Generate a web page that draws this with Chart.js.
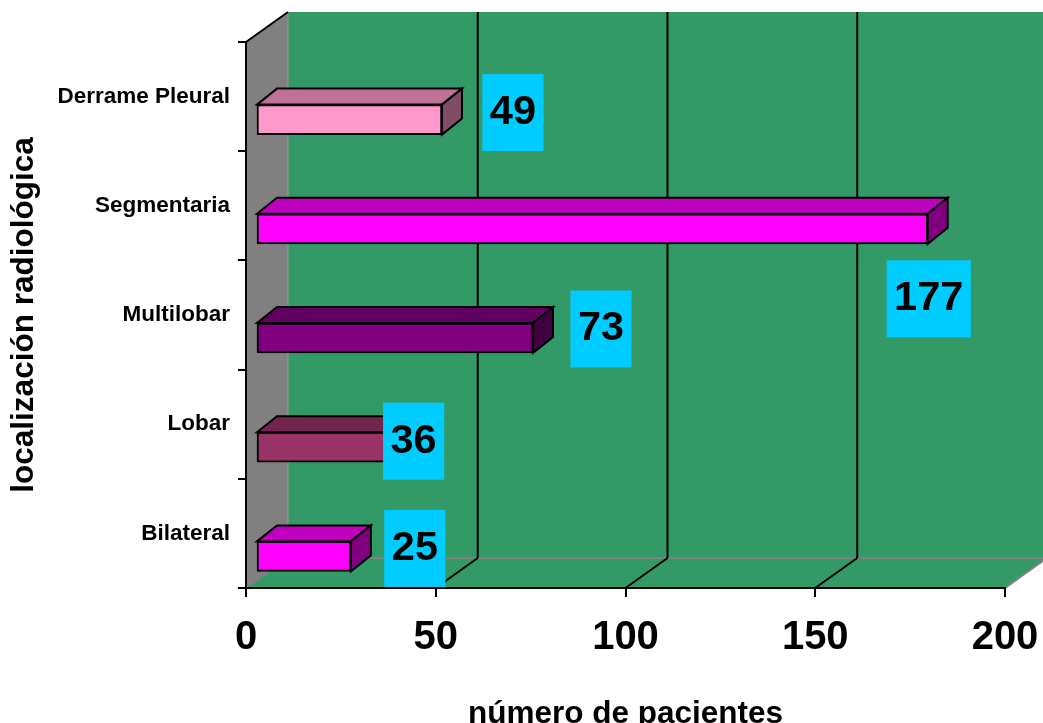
<!DOCTYPE html>
<html>
<head>
<meta charset="utf-8">
<script src="https://cdn.jsdelivr.net/npm/chart.js@4/dist/chart.umd.min.js"></script>
<style>
  html, body { margin: 0; padding: 0; background: #ffffff; overflow: hidden; }
  canvas { display: block; }
</style>
</head>
<body>
<canvas id="chart" width="1043" height="723"></canvas>
<script>
// Patients per radiological location
const categories = ['Derrame Pleural', 'Segmentaria', 'Multilobar', 'Lobar', 'Bilateral'];
const patients = [49, 177, 73, 36, 25];
const xTickValues = [0, 50, 100, 150, 200];
const barColors = ['#FF99CC', '#FF00FF', '#800080', '#993366', '#FF00FF'];

const FONT = '"Liberation Sans", Arial, Helvetica, sans-serif';
const GREEN = '#339966';
const GRAY = '#808080';
const LABEL_BG = '#00CCFF';

// darken a #rrggbb colour by a factor
function shade(hex, f) {
  const n = parseInt(hex.slice(1), 16);
  const r = Math.round(((n >> 16) & 255) * f);
  const g = Math.round(((n >> 8) & 255) * f);
  const b = Math.round((n & 255) * f);
  return `rgb(${r},${g},${b})`;
}

function line(ctx, x1, y1, x2, y2, color, width) {
  ctx.beginPath();
  ctx.moveTo(x1, y1);
  ctx.lineTo(x2, y2);
  ctx.strokeStyle = color;
  ctx.lineWidth = width;
  ctx.stroke();
}

function poly(ctx, pts, fill, stroke) {
  ctx.beginPath();
  ctx.moveTo(pts[0][0], pts[0][1]);
  for (let i = 1; i < pts.length; i++) ctx.lineTo(pts[i][0], pts[i][1]);
  ctx.closePath();
  if (fill) { ctx.fillStyle = fill; ctx.fill(); }
  if (stroke) { ctx.strokeStyle = stroke; ctx.lineWidth = 2; ctx.lineJoin = 'miter'; ctx.stroke(); }
}

// Pseudo-3D scene: side wall, back wall, floor, bar depth faces and value boxes
const scene3d = {
  id: 'scene3d',
  beforeDraw(chart, args, o) {
    const ctx = chart.ctx;
    const xs = chart.scales.x;
    const area = chart.chartArea;
    const L = xs.getPixelForValue(xTickValues[0]);
    const R = xs.getPixelForValue(xTickValues[xTickValues.length - 1]);
    const T = area.top, B = area.bottom;
    const dx = o.wallDepthX, dy = o.wallDepthY;
    ctx.save();
    // back wall
    ctx.fillStyle = GREEN;
    ctx.fillRect(L + dx, T + dy, (R + dx) - (L + dx), B - T);
    // floor
    poly(ctx, [[L, B], [L + dx, B + dy], [R + dx, B + dy], [R, B]], GREEN, null);
    // side wall
    poly(ctx, [[L, T], [L + dx, T + dy], [L + dx, B + dy], [L, B]], GRAY, null);
    line(ctx, L + dx, T + dy, L + dx, B + dy, '#999999', 1);
    // floor edges
    line(ctx, L + dx, B + dy, R + dx, B + dy, GRAY, 2);
    line(ctx, L, B, L + dx, B + dy, GRAY, 2);
    line(ctx, R, B, R + dx, B + dy, GRAY, 2);
    line(ctx, L, T, L + dx, T + dy, '#000000', 2);
    // gridlines on the back wall and across the floor
    xTickValues.slice(1).forEach(v => {
      const p = xs.getPixelForValue(v);
      line(ctx, p + dx, T + dy, p + dx, B + dy, '#000000', 2);
      if (v !== xTickValues[xTickValues.length - 1]) line(ctx, p, B, p + dx, B + dy, '#000000', 2);
    });
    ctx.restore();
  },
  beforeDatasetsDraw(chart, args, o) {
    chart.ctx.save();
    chart.ctx.translate(o.barShiftX, o.barShiftY);
  },
  afterDatasetsDraw(chart, args, o) {
    const ctx = chart.ctx;
    const meta = chart.getDatasetMeta(0);
    const ddx = o.barDepthX, ddy = o.barDepthY;
    meta.data.forEach((bar, i) => {
      const p = bar.getProps(['x', 'y', 'base', 'height'], true);
      const top = p.y - p.height / 2, bot = p.y + p.height / 2;
      const c = barColors[i];
      poly(ctx, [[p.base, top], [p.base + ddx, top + ddy], [p.x + ddx, top + ddy], [p.x, top]], shade(c, 0.75), '#000000');
      poly(ctx, [[p.x, top], [p.x + ddx, top + ddy], [p.x + ddx, bot + ddy], [p.x, bot]], shade(c, 0.5), '#000000');
    });
    ctx.restore();

    // value boxes
    ctx.save();
    ctx.font = `bold ${o.labelSize}px ${FONT}`;
    ctx.textAlign = 'center';
    ctx.textBaseline = 'middle';
    meta.data.forEach((bar, i) => {
      const p = bar.getProps(['x', 'y'], true);
      const off = o.labelOffsets[i];
      const cx = p.x + o.barShiftX + off[0];
      const cy = p.y + o.barShiftY + off[1];
      const text = String(patients[i]);
      const w = ctx.measureText(text).width + 15;
      const h = 77;
      ctx.fillStyle = LABEL_BG;
      ctx.fillRect(cx - w / 2, cy - h / 2, w, h);
      ctx.fillStyle = '#000000';
      ctx.fillText(text, cx, cy);
    });
    ctx.restore();
  }
};

new Chart(document.getElementById('chart'), {
  type: 'bar',
  data: {
    labels: categories,
    datasets: [{
      data: patients,
      backgroundColor: barColors,
      borderColor: '#000000',
      borderWidth: 2,
      borderSkipped: false,
      barThickness: 30,
      clip: false
    }]
  },
  options: {
    indexAxis: 'y',
    responsive: false,
    animation: false,
    events: [],
    layout: { padding: { top: 42, right: 38, left: 0, bottom: 0 } },
    plugins: {
      legend: { display: false },
      tooltip: { enabled: false },
      scene3d: {
        wallDepthX: 42, wallDepthY: -30,
        barShiftX: 10, barShiftY: 23,
        barDepthX: 20, barDepthY: -16,
        labelSize: 41.5,
        labelOffsets: [[71, -7], [1, 70], [68, -9], [21, -6], [64, -8]]
      }
    },
    scales: {
      x: {
        type: 'linear',
        min: xTickValues[0],
        max: xTickValues[xTickValues.length - 1],
        afterBuildTicks: s => { s.ticks = xTickValues.map(v => ({ value: v })); },
        afterFit: s => { s.height = 135; s.paddingLeft = 0; s.paddingRight = 0; },
        grid: { drawOnChartArea: false, drawTicks: true, tickLength: 9, color: '#000000', lineWidth: 2 },
        border: { display: true, color: '#000000', width: 2 },
        ticks: {
          color: '#000000', padding: 17, maxRotation: 0,
          font: { family: FONT, size: 40, weight: 'bold' }
        },
        title: {
          display: true, text: 'número de pacientes', color: '#000000',
          font: { family: FONT, size: 31.5, weight: 'bold' },
          padding: { top: 0, bottom: -10 }
        }
      },
      y: {
        type: 'category',
        afterFit: s => { s.width = 246; },
        grid: { drawOnChartArea: false, drawTicks: true, tickLength: 8, color: '#000000', lineWidth: 2, offset: true },
        border: { display: true, color: '#000000', width: 2 },
        ticks: {
          color: '#000000', padding: 8,
          font: { family: FONT, size: 22.5, weight: 'bold' }
        },
        title: {
          display: true, text: 'localización radiológica', color: '#000000',
          font: { family: FONT, size: 31.5, weight: 'bold' },
          padding: { top: 5, bottom: 0 }
        }
      }
    }
  },
  plugins: [scene3d]
});
</script>
</body>
</html>
